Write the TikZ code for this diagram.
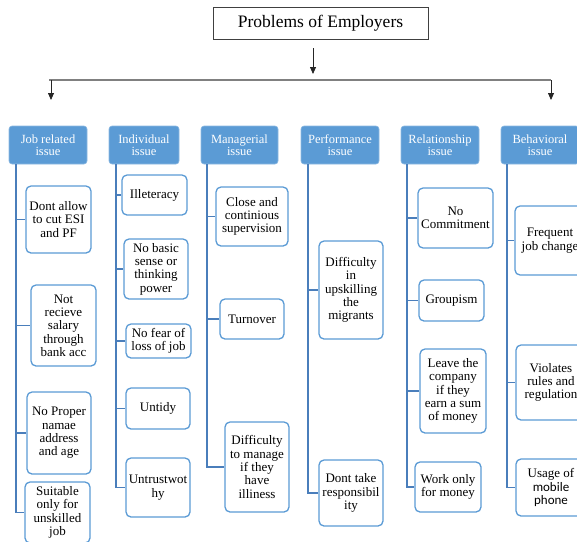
\documentclass[tikz,border=0pt]{standalone}
\usepackage{fontspec}
\setmainfont{Liberation Serif}
\newfontfamily\calib{Carlito}
\usetikzlibrary{arrows.meta}
\definecolor{hdrblue}{HTML}{5B9BD5}
\definecolor{boxblue}{HTML}{5B9BD5}
\definecolor{linkblue}{HTML}{4A7EBB}
\begin{document}
\begin{tikzpicture}[x=1pt,y=-1pt,
    titlebox/.style ={draw=black!75, line width=0.9pt, minimum width=215pt, minimum height=32pt,
        font=\fontsize{17.5}{18}\selectfont},
    header/.style ={fill=hdrblue, draw=hdrblue!70!white, line width=0.6pt, rounded corners=3pt,
        text=white, align=center, inner sep=0pt, minimum width=78pt, minimum height=38pt,
        font=\fontsize{12.5}{12}\selectfont},
    problem/.style ={draw=boxblue, line width=1.3pt, fill=white, rounded corners=5pt,
        align=center, inner sep=0pt, font=\fontsize{13}{13.3}\selectfont},
    trunk/.style ={draw=linkblue, line width=1.3pt},
    bus/.style ={draw=black!50, line width=1.2pt},
    arr/.style ={draw=black!85, line width=0.8pt, -{Triangle[width=6pt,length=7pt]}}]
   \useasboundingbox (0,0) rectangle (577,541);

   % top of the chart
   \node[titlebox] (title) at (320.5,23) {Problems of Employers};
   \coordinate (t0) at (313,48);
   \coordinate (t1) at (313,74);
   \coordinate (busL) at (49,80);
   \coordinate (busR) at (551,80);
   \coordinate (la) at (51,80);
   \coordinate (lb) at (51,100);
   \coordinate (ra) at (551,80);
   \coordinate (rb) at (551,100);
   \draw[arr] (t0) to (t1);
   \draw[bus] (busL) to (busR);
   \draw[arr] (la) to (lb);
   \draw[arr] (ra) to (rb);

   % headers
   \node[header] (job)  at (48,145)    {Job related\\issue};
   \node[header, minimum width=70pt] (indiv) at (144,145) {Individual\\issue};
   \node[header, minimum width=77pt] (manag) at (239.5,145) {Managerial\\issue};
   \node[header] (perf) at (340,145)   {Performance\\issue};
   \node[header] (rel)  at (440,145)   {Relationship\\issue};
   \node[header] (beh)  at (540,145)   {Behavioral\\issue};

   % job related
   \node[problem, minimum width=65pt, minimum height=67pt] (j1) at (58.5,219.5) {Dont allow\\to cut ESI\\and PF};
   \node[problem, minimum width=65pt, minimum height=81pt] (j2) at (63.5,325.5) {Not\\recieve\\salary\\through\\bank acc};
   \node[problem, minimum width=64pt, minimum height=82pt] (j3) at (59,433) {No Proper\\namae\\address\\and age};
   \node[problem, minimum width=65pt, minimum height=61pt] (j4) at (57.5,512.5) {Suitable\\only for\\unskilled\\job};

   % individual
   \node[problem, minimum width=65pt, minimum height=40pt] (i1) at (154.5,195) {Illeteracy};
   \node[problem, minimum width=64pt, minimum height=60pt] (i2) at (156,269) {No basic\\sense or\\thinking\\power};
   \node[problem, minimum width=65pt, minimum height=34pt] (i3) at (158.5,341) {No fear of\\loss of job};
   \node[problem, minimum width=64pt, minimum height=41pt] (i4) at (158,408.5) {Untidy};
   \node[problem, minimum width=64pt, minimum height=59pt] (i5) at (158,487.5) {Untrustwot\\hy};

   % managerial
   \node[problem, minimum width=72pt, minimum height=59pt] (m1) at (252,216.5) {Close and\\continious\\supervision};
   \node[problem, minimum width=64pt, minimum height=40pt] (m2) at (252,319) {Turnover};
   \node[problem, minimum width=64pt, minimum height=90pt] (m3) at (257,467) {Difficulty\\to manage\\if they\\have\\illiness};

   % performance
   \node[problem, minimum width=64pt, minimum height=98pt] (p1) at (351,290) {Difficulty\\in\\upskilling\\the\\migrants};
   \node[problem, minimum width=64pt, minimum height=66pt] (p2) at (351,493) {Dont take\\responsibil\\ity};

   % relationship
   \node[problem, minimum width=75pt, minimum height=60pt] (r1) at (455.5,218) {No\\Commitment};
   \node[problem, minimum width=65pt, minimum height=41pt] (r2) at (451.5,300.5) {Groupism};
   \node[problem, minimum width=66pt, minimum height=84pt] (r3) at (453,391) {Leave the\\company\\if they\\earn a sum\\of money};
   \node[problem, minimum width=66pt, minimum height=50pt] (r4) at (448,487) {Work only\\for money};

   % behavioral
   \node[problem, minimum width=70pt, minimum height=69pt] (b1) at (550,240.5) {Frequent\\job change};
   \node[problem, minimum width=70pt, minimum height=75pt] (b2) at (551,382.5) {Violates\\rules and\\regulation};
   \node[problem, minimum width=70pt, minimum height=57pt] (b3) at (551,487.5) {Usage of\\{\calib mobile}\\{\calib phone}};

   % trunks
   \coordinate (jt) at (16,164);
   \coordinate (it) at (116,164);
   \coordinate (mt) at (207,164);
   \coordinate (pt) at (308,164);
   \coordinate (rt) at (407,164);
   \coordinate (bt) at (507,164);
   \draw[trunk] (jt) |- (j4.west);
   \draw[trunk] (it) |- (i5.west);
   \draw[trunk] (mt) |- (m3.west);
   \draw[trunk] (pt) |- (p2.west);
   \draw[trunk] (rt) |- (r4.west);
   \draw[trunk] (bt) |- (b3.west);

   % branches
   \foreach \n/\t in {j1/jt, j2/jt, j3/jt, i1/it, i2/it, i3/it, i4/it, m1/mt, m2/mt,
                      p1/pt, r1/rt, r2/rt, r3/rt, b1/bt, b2/bt}
      \draw[trunk] (\t |- \n.west) to (\n.west);
 \end{tikzpicture}
\end{document}
